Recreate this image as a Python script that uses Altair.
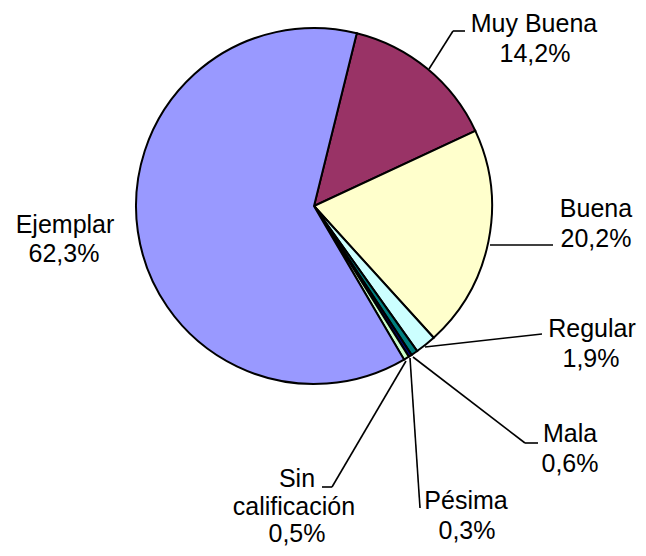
import math
import altair as alt
import pandas as pd

# ---- data ----
categories = ["Muy Buena", "Buena", "Regular", "Mala", "Pésima", "Sin calificación", "Ejemplar"]
values = [14.2, 20.2, 1.9, 0.6, 0.3, 0.5, 62.3]
colors = ["#993366", "#FFFFCC", "#CCFFFF", "#008080", "#000080", "#CCFFCC", "#9999FF"]

def pct(v):
    return f"{v:.1f}".replace(".", ",") + "%"

df = pd.DataFrame({"cat": categories, "value": values, "idx": list(range(len(values)))})

# ---- layout (pixel positions inside chart, chart origin = page (8,8)) ----
OX, OY = 8, 8
CX, CY, R = 314 - OX, 206 - OY, 178
START = math.radians(13.9)

# label lines: (text, x center, baseline y) in page coords
label_lines = [
    ("Muy Buena", 534, 32), (pct(values[0]), 535, 62),
    ("Buena", 596, 217), (pct(values[1]), 596, 247),
    ("Regular", 592, 337), (pct(values[2]), 591, 367),
    ("Mala", 570, 442), (pct(values[3]), 570, 472),
    ("Pésima", 466, 509), (pct(values[4]), 467, 539),
    ("Sin", 297, 487), ("calificación", 294, 515), (pct(values[5]), 297, 542),
    ("Ejemplar", 65, 233), (pct(values[6]), 64, 262),
]
labels_df = pd.DataFrame({
    "t": [l[0] for l in label_lines],
    "x": [l[1] - OX for l in label_lines],
    "y": [l[2] - OY for l in label_lines],
})

# leader segments in page coords
segments = [
    (429, 69, 453, 31), (453, 31, 465, 31),
    (490, 245, 553, 245),
    (425, 347, 542, 334),
    (413, 357, 525, 443), (525, 443, 538, 443),
    (410, 358, 420, 508),
    (406, 361, 332, 487), (332, 487, 322, 487),
]
seg_df = pd.DataFrame({
    "x": [s[0] - OX for s in segments], "y": [s[1] - OY for s in segments],
    "x2": [s[2] - OX for s in segments], "y2": [s[3] - OY for s in segments],
})

pie = alt.Chart(df).mark_arc(stroke="black", strokeWidth=2, outerRadius=R).encode(
    theta=alt.Theta("value:Q", stack=True, scale=alt.Scale(range=[START, START + 2 * math.pi])),
    color=alt.Color("cat:N", scale=alt.Scale(domain=categories, range=colors), legend=None),
    order=alt.Order("idx:Q"),
    x=alt.value(CX),
    y=alt.value(CY),
)

leaders = alt.Chart(seg_df).mark_rule(color="black", strokeWidth=1.6).encode(
    x=alt.X("x:Q", scale=None), y=alt.Y("y:Q", scale=None),
    x2="x2:Q", y2="y2:Q",
)

texts = alt.Chart(labels_df).mark_text(
    font="Liberation Sans", fontSize=25, color="black", align="center", baseline="alphabetic"
).encode(
    x=alt.X("x:Q", scale=None), y=alt.Y("y:Q", scale=None), text="t:N"
)

chart = alt.layer(pie, leaders, texts).properties(
    width=630, height=540, padding=0, autosize=alt.AutoSizeParams(type="none")
).configure_view(stroke=None)

chart.save("out.html", embed_options={"renderer": "svg", "actions": False})
